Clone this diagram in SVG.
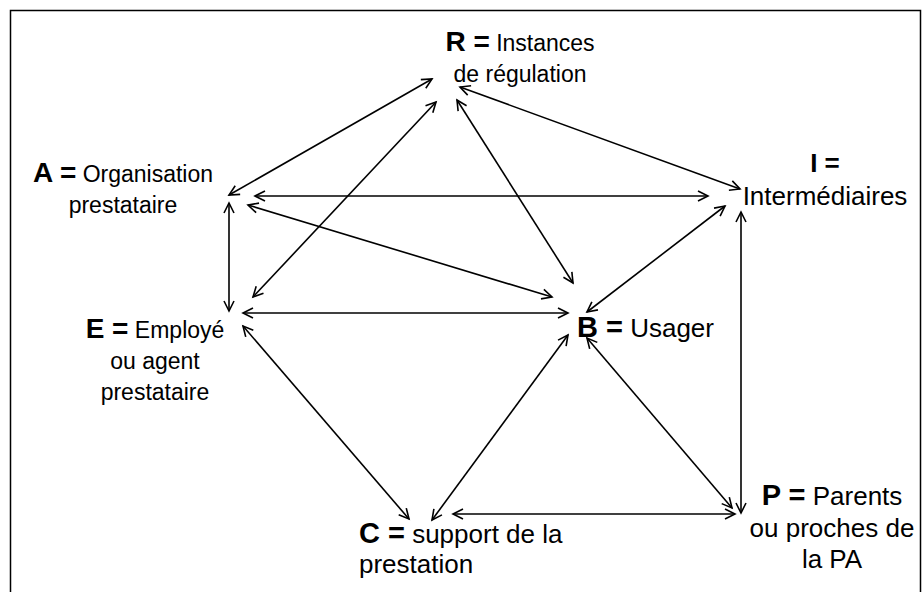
<svg xmlns="http://www.w3.org/2000/svg" width="923" height="592" viewBox="0 0 923 592">
  <style>
    .t { font-family: "Liberation Sans", Arial, sans-serif; fill: #000; }
    .s { font-size: 23px; }
    .l { font-size: 26px; }
    .b { font-weight: bold; }
    .c line { stroke: #000; stroke-width: 1.6; marker-start: url(#ah); marker-end: url(#ah); }
  </style>
  <defs>
    <marker id="ah" markerUnits="userSpaceOnUse" markerWidth="14" markerHeight="14" refX="11" refY="6" orient="auto-start-reverse" viewBox="0 0 14 12">
      <path d="M1,1 L11,6 L1,11" fill="none" stroke="#000" stroke-width="1.6" stroke-linejoin="miter"/>
    </marker>
  </defs>
  <rect x="0" y="0" width="923" height="592" fill="#fff"/>
  <path d="M10.5,600 V10.5 H920.5 V600" fill="none" stroke="#000" stroke-width="1.5"/>

  <g id="connectors" class="c">
    <line x1="229" y1="195" x2="432" y2="79"/>
    <line x1="436" y1="102" x2="253" y2="297"/>
    <line x1="457" y1="100" x2="573" y2="283"/>
    <line x1="460" y1="87" x2="740" y2="189"/>
    <line x1="255" y1="196" x2="708" y2="196"/>
    <line x1="248" y1="205" x2="552" y2="297"/>
    <line x1="229" y1="203" x2="229" y2="311"/>
    <line x1="243" y1="313" x2="568" y2="313"/>
    <line x1="725" y1="206" x2="587" y2="312"/>
    <line x1="741" y1="212" x2="741" y2="513"/>
    <line x1="243" y1="326" x2="409" y2="519"/>
    <line x1="432" y1="520" x2="568" y2="335"/>
    <line x1="587" y1="338" x2="732" y2="508"/>
    <line x1="453" y1="514" x2="735" y2="514"/>
  </g>

  <g id="R">
    <text class="t s" x="520" y="51" text-anchor="middle"><tspan class="b" font-size="28">R =</tspan> Instances</text>
    <text class="t s" x="520" y="82" text-anchor="middle">de régulation</text>
  </g>
  <g id="A">
    <text class="t s" x="123" y="182" text-anchor="middle"><tspan class="b" font-size="28">A =</tspan> Organisation</text>
    <text class="t s" x="123" y="213" text-anchor="middle">prestataire</text>
  </g>
  <g id="E">
    <text class="t s" x="155" y="338" text-anchor="middle"><tspan class="b" font-size="28">E =</tspan> Employé</text>
    <text class="t s" x="155" y="369" text-anchor="middle">ou agent</text>
    <text class="t s" x="155" y="400" text-anchor="middle">prestataire</text>
  </g>
  <g id="B">
    <text class="t l" x="577" y="337"><tspan class="b" font-size="29">B =</tspan> Usager</text>
  </g>
  <g id="I">
    <text class="t l b" x="825" y="172" text-anchor="middle" font-size="29">I =</text>
    <text class="t l" x="825" y="205" text-anchor="middle">Intermédiaires</text>
  </g>
  <g id="P">
    <text class="t l" x="832" y="505" text-anchor="middle"><tspan class="b" font-size="29">P =</tspan> Parents</text>
    <text class="t l" x="832" y="537" text-anchor="middle">ou proches de</text>
    <text class="t l" x="832" y="568" text-anchor="middle">la PA</text>
  </g>
  <g id="C">
    <text class="t l" x="359" y="543"><tspan class="b" font-size="29">C =</tspan> support de la</text>
    <text class="t l" x="359" y="573">prestation</text>
  </g>
</svg>
